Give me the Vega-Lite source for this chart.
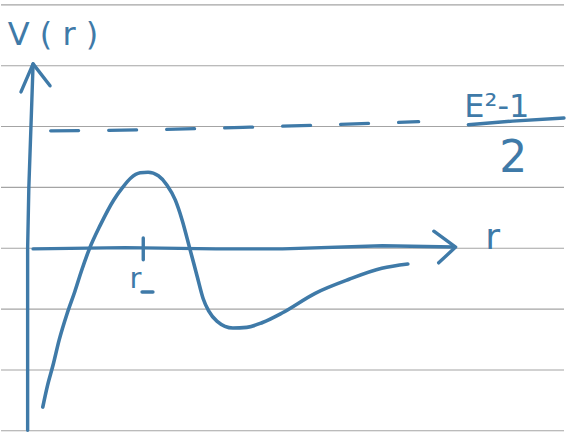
{
  "$schema": "https://vega.github.io/schema/vega-lite/v6.json",
  "autosize": {"type": "fit", "contains": "padding"},
  "width": 566,
  "height": 432,
  "padding": 0,
  "background": "#ffffff",
  "config": {"view": {"stroke": null}},
  "datasets": {
    "ruled": [{"V": 4}, {"V": 3}, {"V": 2}, {"V": 1}, {"V": 0}, {"V": -1}, {"V": -2}, {"V": -3}],
    "potential": [
      {"i": 0, "r": 0.14, "V": -2.61},
      {"i": 1, "r": 0.22, "V": -2.25},
      {"i": 2, "r": 0.31, "V": -1.92},
      {"i": 3, "r": 0.41, "V": -1.51},
      {"i": 4, "r": 0.54, "V": -1.08},
      {"i": 5, "r": 0.67, "V": -0.71},
      {"i": 6, "r": 0.78, "V": -0.37},
      {"i": 7, "r": 0.91, "V": -0.01},
      {"i": 8, "r": 1.09, "V": 0.38},
      {"i": 9, "r": 1.31, "V": 0.79},
      {"i": 10, "r": 1.46, "V": 1.00},
      {"i": 11, "r": 1.59, "V": 1.15},
      {"i": 12, "r": 1.75, "V": 1.24},
      {"i": 13, "r": 1.88, "V": 1.25},
      {"i": 14, "r": 2.05, "V": 1.19},
      {"i": 15, "r": 2.19, "V": 1.04},
      {"i": 16, "r": 2.33, "V": 0.79},
      {"i": 17, "r": 2.44, "V": 0.47},
      {"i": 18, "r": 2.57, "V": -0.01},
      {"i": 19, "r": 2.69, "V": -0.46},
      {"i": 20, "r": 2.79, "V": -0.83},
      {"i": 21, "r": 2.88, "V": -1.03},
      {"i": 22, "r": 3.02, "V": -1.20},
      {"i": 23, "r": 3.28, "V": -1.31},
      {"i": 24, "r": 3.51, "V": -1.30},
      {"i": 25, "r": 3.77, "V": -1.22},
      {"i": 26, "r": 4.10, "V": -1.06},
      {"i": 27, "r": 4.64, "V": -0.74},
      {"i": 28, "r": 5.20, "V": -0.51},
      {"i": 29, "r": 5.74, "V": -0.33},
      {"i": 30, "r": 6.17, "V": -0.26}
    ],
    "strokes": [
      {"path": "r-axis", "i": 0, "r": -0.02, "V": -0.01},
      {"path": "r-axis", "i": 1, "r": 1.50, "V": 0.01},
      {"path": "r-axis", "i": 2, "r": 3.00, "V": -0.01},
      {"path": "r-axis", "i": 3, "r": 4.10, "V": -0.01},
      {"path": "r-axis", "i": 4, "r": 5.75, "V": 0.04},
      {"path": "r-axis", "i": 5, "r": 6.94, "V": 0.02},
      {"path": "r-head", "i": 0, "r": 6.60, "V": 0.28},
      {"path": "r-head", "i": 1, "r": 6.96, "V": 0.02},
      {"path": "r-head", "i": 2, "r": 6.68, "V": -0.24},
      {"path": "V-axis", "i": 0, "r": -0.11, "V": -2.99},
      {"path": "V-axis", "i": 1, "r": -0.11, "V": 0.00},
      {"path": "V-axis", "i": 2, "r": -0.09, "V": 1.00},
      {"path": "V-axis", "i": 3, "r": -0.04, "V": 2.44},
      {"path": "V-axis", "i": 4, "r": -0.02, "V": 3.03},
      {"path": "V-head", "i": 0, "r": -0.22, "V": 2.57},
      {"path": "V-head", "i": 1, "r": -0.02, "V": 3.03},
      {"path": "V-head", "i": 2, "r": 0.26, "V": 2.67},
      {"path": "r-minus-tick", "i": 0, "r": 1.80, "V": 0.17},
      {"path": "r-minus-tick", "i": 1, "r": 1.80, "V": -0.19},
      {"path": "sub-minus", "i": 0, "r": 1.78, "V": -0.72},
      {"path": "sub-minus", "i": 1, "r": 1.96, "V": -0.72},
      {"path": "fraction-bar", "i": 0, "r": 7.17, "V": 2.03},
      {"path": "fraction-bar", "i": 1, "r": 7.90, "V": 2.09},
      {"path": "fraction-bar", "i": 2, "r": 8.75, "V": 2.14}
    ],
    "energy": [
      {"i": 0, "r": 0.27, "V": 1.93},
      {"i": 1, "r": 2.00, "V": 1.95},
      {"i": 2, "r": 3.56, "V": 1.99},
      {"i": 3, "r": 6.35, "V": 2.08}
    ]
  },
  "encoding": {
    "x": {"field": "r", "type": "quantitative", "scale": {"domain": [-0.55, 8.75], "nice": false, "zero": false}, "axis": null},
    "y": {"field": "V", "type": "quantitative", "scale": {"domain": [-3.02, 4.08], "nice": false, "zero": false}, "axis": null}
  },
  "layer": [
    {
      "data": {"name": "ruled"},
      "mark": {"type": "rule", "color": "#a4a4a4", "strokeWidth": 1.1},
      "encoding": {"x": null, "y": {"field": "V", "type": "quantitative"}}
    },
    {
      "data": {"name": "energy"},
      "mark": {"type": "line", "color": "#3f7aa8", "strokeWidth": 3.2, "strokeDash": [28, 30], "strokeCap": "round", "interpolate": "monotone"},
      "encoding": {"order": {"field": "i", "type": "quantitative"}}
    },
    {
      "data": {"name": "strokes"},
      "mark": {"type": "line", "color": "#3f7aa8", "strokeWidth": 3.4, "strokeCap": "round", "strokeJoin": "round"},
      "encoding": {"detail": {"field": "path"}, "order": {"field": "i", "type": "quantitative"}}
    },
    {
      "data": {"name": "potential"},
      "mark": {"type": "line", "color": "#3f7aa8", "strokeWidth": 3.6, "strokeCap": "round", "interpolate": "monotone"},
      "encoding": {"order": {"field": "i", "type": "quantitative"}}
    },
    {
      "data": {"values": [{"label": "V ( r )", "r": 0.31, "V": 3.34}]},
      "mark": {"type": "text", "font": "DejaVu Sans", "fontSize": 32, "color": "#3f7aa8", "align": "center", "baseline": "alphabetic"},
      "encoding": {"text": {"field": "label"}}
    },
    {
      "data": {"values": [{"label": "E²-1", "r": 7.64, "V": 2.16}]},
      "mark": {"type": "text", "font": "DejaVu Sans", "fontSize": 32, "color": "#3f7aa8", "align": "center", "baseline": "alphabetic"},
      "encoding": {"text": {"field": "label"}}
    },
    {
      "data": {"values": [{"label": "2", "r": 7.91, "V": 1.25}]},
      "mark": {"type": "text", "font": "DejaVu Sans", "fontSize": 44, "color": "#3f7aa8", "align": "center", "baseline": "alphabetic"},
      "encoding": {"text": {"field": "label"}}
    },
    {
      "data": {"values": [{"label": "r", "r": 7.57, "V": -0.01}]},
      "mark": {"type": "text", "font": "DejaVu Sans", "fontSize": 36, "color": "#3f7aa8", "align": "center", "baseline": "alphabetic"},
      "encoding": {"text": {"field": "label"}}
    },
    {
      "data": {"values": [{"label": "r", "r": 1.67, "V": -0.65}]},
      "mark": {"type": "text", "font": "DejaVu Sans", "fontSize": 29, "color": "#3f7aa8", "align": "center", "baseline": "alphabetic"},
      "encoding": {"text": {"field": "label"}}
    }
  ]
}
